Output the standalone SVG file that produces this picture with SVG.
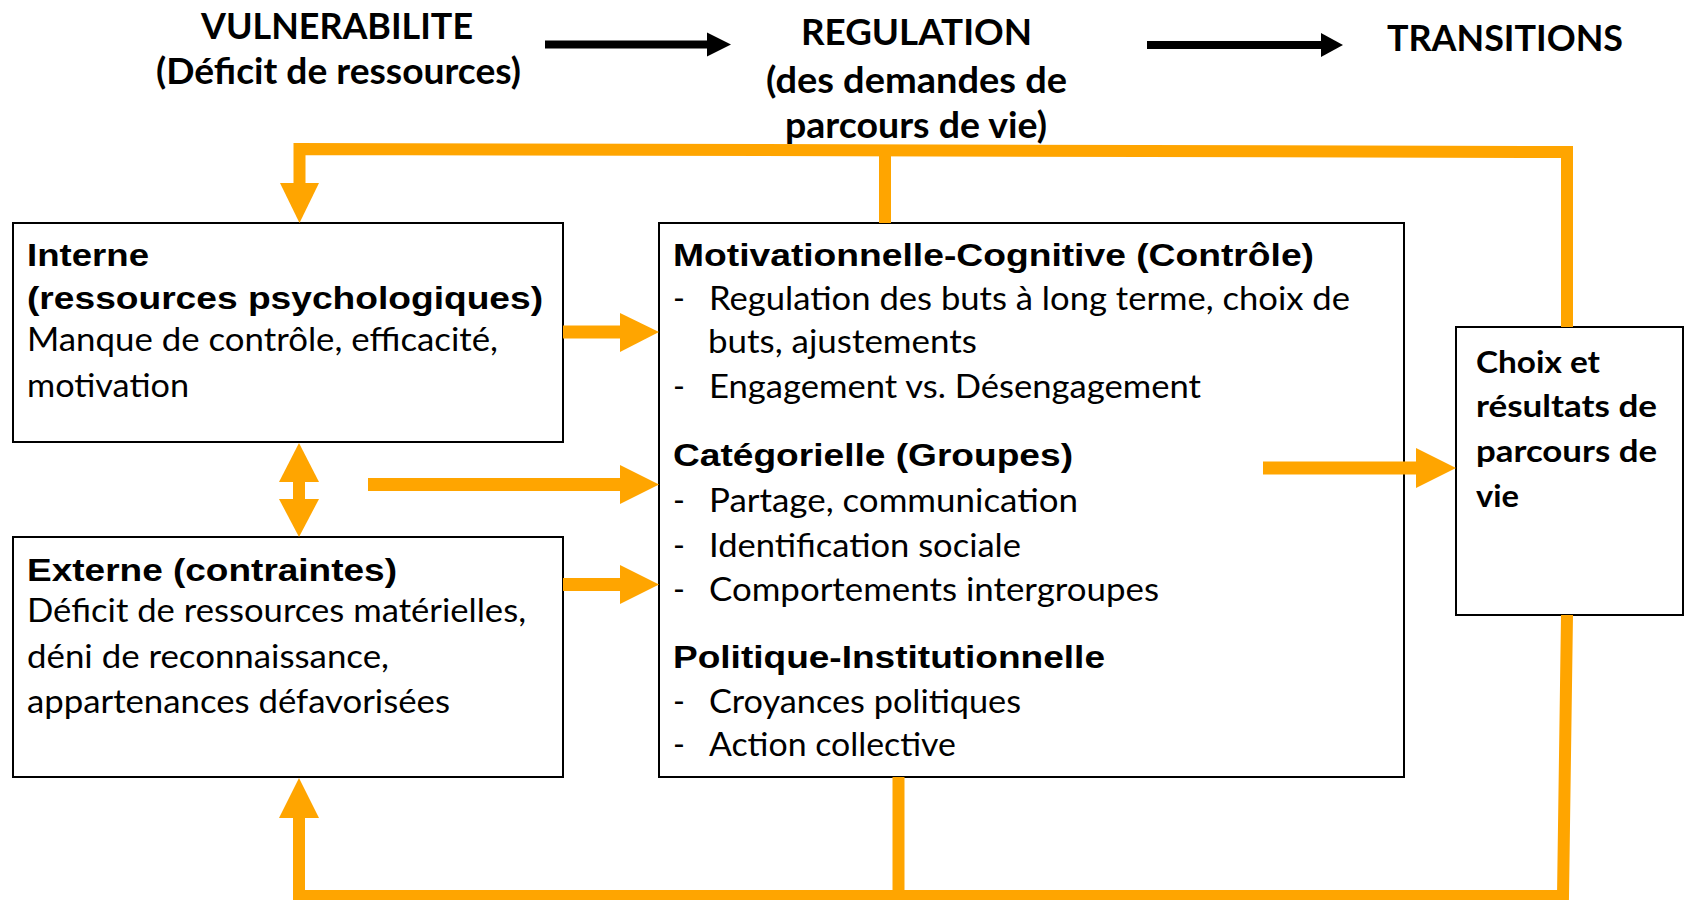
<svg xmlns="http://www.w3.org/2000/svg" width="1685" height="900" viewBox="0 0 1685 900">
<style>
.box{fill:#fff;stroke:#000;stroke-width:2}
.h{font-family:'Liberation Sans',Arial,sans-serif;font-weight:bold;font-size:32px;fill:#000}
.b{font-family:Lato,'Liberation Sans',sans-serif;font-size:32px;fill:#000}
.t{font-family:Lato,'Liberation Sans',sans-serif;font-weight:bold;font-size:36px;fill:#000}
.r{font-family:Lato,'Liberation Sans',sans-serif;font-weight:bold;font-size:31px;fill:#000}
.o{fill:#FFA500}
.ol{fill:none;stroke:#FFA500;stroke-width:12}
.k{fill:#000}
</style>
<rect width="1685" height="900" fill="#fff"/>
<g id="title-vulnerabilite">
<text class="t" x="201" y="39" textLength="272" lengthAdjust="spacingAndGlyphs">VULNERABILITE</text>
<text class="t" x="156" y="84" textLength="365" lengthAdjust="spacingAndGlyphs">(Déficit de ressources)</text>
</g>
<g id="title-regulation">
<text class="t" x="801" y="45" textLength="231" lengthAdjust="spacingAndGlyphs">REGULATION</text>
<text class="t" x="766" y="93" textLength="301" lengthAdjust="spacingAndGlyphs">(des demandes de</text>
<text class="t" x="785" y="138" textLength="262" lengthAdjust="spacingAndGlyphs">parcours de vie)</text>
</g>
<g id="title-transitions">
<text class="t" x="1387" y="51" textLength="236" lengthAdjust="spacingAndGlyphs">TRANSITIONS</text>
</g>
<g id="node-interne">
<rect class="box" x="13" y="223" width="550" height="219"/>
<text class="h" x="27" y="266" textLength="122" lengthAdjust="spacingAndGlyphs">Interne</text>
<text class="h" x="27" y="309" textLength="516" lengthAdjust="spacingAndGlyphs">(ressources psychologiques)</text>
<text class="b" x="27" y="351" textLength="471" lengthAdjust="spacingAndGlyphs">Manque de contrôle, efficacité,</text>
<text class="b" x="27" y="397" textLength="162" lengthAdjust="spacingAndGlyphs">motivation</text>
</g>
<g id="node-externe">
<rect class="box" x="13" y="537" width="550" height="240"/>
<text class="h" x="27" y="581" textLength="370" lengthAdjust="spacingAndGlyphs">Externe (contraintes)</text>
<text class="b" x="27" y="622" textLength="499" lengthAdjust="spacingAndGlyphs">Déficit de ressources matérielles,</text>
<text class="b" x="27" y="668" textLength="362" lengthAdjust="spacingAndGlyphs">déni de reconnaissance,</text>
<text class="b" x="27" y="713" textLength="423" lengthAdjust="spacingAndGlyphs">appartenances défavorisées</text>
</g>
<g id="node-regulation">
<rect class="box" x="659" y="223" width="745" height="554"/>
<text class="h" x="673" y="266" textLength="641" lengthAdjust="spacingAndGlyphs">Motivationnelle-Cognitive (Contrôle)</text>
<text class="b" x="673" y="310">-</text>
<text class="b" x="709" y="310" textLength="641" lengthAdjust="spacingAndGlyphs">Regulation des buts à long terme, choix de</text>
<text class="b" x="708" y="353" textLength="269" lengthAdjust="spacingAndGlyphs">buts, ajustements</text>
<text class="b" x="673" y="398">-</text>
<text class="b" x="709" y="398" textLength="492" lengthAdjust="spacingAndGlyphs">Engagement vs. Désengagement</text>
<text class="h" x="673" y="466" textLength="400" lengthAdjust="spacingAndGlyphs">Catégorielle (Groupes)</text>
<text class="b" x="673" y="512">-</text>
<text class="b" x="709" y="512" textLength="369" lengthAdjust="spacingAndGlyphs">Partage, communication</text>
<text class="b" x="673" y="557">-</text>
<text class="b" x="709" y="557" textLength="312" lengthAdjust="spacingAndGlyphs">Identification sociale</text>
<text class="b" x="673" y="601">-</text>
<text class="b" x="709" y="601" textLength="450" lengthAdjust="spacingAndGlyphs">Comportements intergroupes</text>
<text class="h" x="673" y="668" textLength="432" lengthAdjust="spacingAndGlyphs">Politique-Institutionnelle</text>
<text class="b" x="673" y="713">-</text>
<text class="b" x="709" y="713" textLength="312" lengthAdjust="spacingAndGlyphs">Croyances politiques</text>
<text class="b" x="673" y="756">-</text>
<text class="b" x="709" y="756" textLength="247" lengthAdjust="spacingAndGlyphs">Action collective</text>
</g>
<g id="node-choix">
<rect class="box" x="1456" y="327" width="227" height="288"/>
<text class="r" x="1476" y="373" textLength="124" lengthAdjust="spacingAndGlyphs">Choix et</text>
<text class="r" x="1476" y="417" textLength="181" lengthAdjust="spacingAndGlyphs">résultats de</text>
<text class="r" x="1476" y="462" textLength="181" lengthAdjust="spacingAndGlyphs">parcours de</text>
<text class="r" x="1476" y="507" textLength="43" lengthAdjust="spacingAndGlyphs">vie</text>
</g>
<g id="connectors">
<rect class="k" x="545" y="40.5" width="163" height="8"/>
<polygon class="k" points="707,32.5 707,56.5 731,44.5"/>
<rect class="k" x="1147" y="41" width="175" height="8"/>
<polygon class="k" points="1321,33 1321,57 1343,45"/>
<path class="ol" d="M299.5,185 V149 L1567,152 V327"/>
<polygon class="o" points="280,183 319,183 299.5,223"/>
<line class="ol" x1="885" y1="152" x2="885" y2="223"/>
<path class="ol" d="M1567,615 L1563,896 H299 V816"/>
<polygon class="o" points="279,818 319,818 299,778"/>
<line class="ol" x1="898.5" y1="777" x2="898.5" y2="896"/>
<polygon class="o" points="279,482 319,482 299,443"/>
<rect class="o" x="293" y="480" width="12" height="21"/>
<polygon class="o" points="279,499 319,499 299,537"/>
<rect class="o" x="563" y="325.5" width="58" height="13"/>
<polygon class="o" points="620,313 620,352 659,332"/>
<rect class="o" x="368" y="478" width="253" height="13"/>
<polygon class="o" points="620,465 620,504 659,484.5"/>
<rect class="o" x="563" y="578" width="58" height="13"/>
<polygon class="o" points="620,565 620,604 659,584.5"/>
<rect class="o" x="1263" y="461.5" width="154" height="13"/>
<polygon class="o" points="1416,448 1416,488 1456,468"/>
</g>
</svg>
